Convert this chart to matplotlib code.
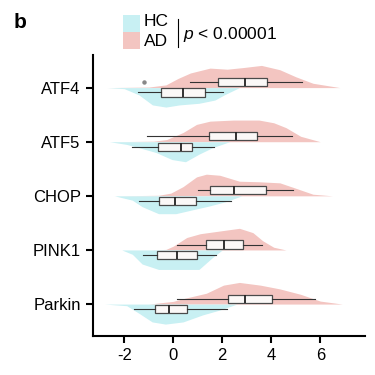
import matplotlib
matplotlib.use("Agg")
import matplotlib.pyplot as plt
from matplotlib.patches import Rectangle
from matplotlib.lines import Line2D

plt.rcParams["font.family"] = ["Liberation Sans", "DejaVu Sans"]
plt.rcParams["mathtext.fontset"] = "custom"
plt.rcParams["mathtext.it"] = "Liberation Sans:italic"
plt.rcParams["mathtext.rm"] = "Liberation Sans"
plt.rcParams["axes.unicode_minus"] = False

genes = ["ATF4", "ATF5", "CHOP", "PINK1", "Parkin"]

# box stats: whisker low, q1, median, q3, whisker high
ad_stats = [
    [0.68, 1.84, 2.93, 3.81, 5.24],
    [-1.09, 1.47, 2.55, 3.40, 4.83],
    [1.02, 1.50, 2.49, 3.78, 4.87],
    [0.16, 1.32, 2.07, 2.85, 3.63],
    [0.16, 2.22, 2.93, 4.03, 5.78],
]
hc_stats = [
    [-1.43, -0.50, 0.41, 1.29, 2.04],
    [-1.70, -0.64, 0.30, 0.75, 1.68],
    [-1.39, -0.58, 0.07, 0.93, 2.34],
    [-1.22, -0.68, 0.14, 0.98, 1.74],
    [-1.59, -0.75, -0.18, 0.57, 2.18],
]
ad_outliers = [[-1.18], [], [], [], []]
hc_outliers = [[], [], [], [], []]

# half-violin outlines (x value, height)
ad_dens_x = [
    [-2.7, -1.0, -0.3, 0.2, 0.7, 1.5, 2.2, 2.85, 3.6, 4.35, 5.0, 5.7, 6.8],
    [-2.45, -0.8, -0.27, 0.4, 0.95, 1.5, 2.45, 3.5, 4.1, 4.6, 5.2, 6.0],
    [-2.3, -0.6, -0.1, 0.4, 0.95, 1.35, 1.9, 2.7, 3.5, 4.35, 5.0, 5.7, 6.5],
    [-0.9, -0.3, 0.0, 0.55, 1.1, 1.9, 2.7, 3.25, 3.65, 4.1, 4.6],
    [-1.0, 0.0, 0.4, 1.35, 2.05, 2.7, 3.55, 4.35, 5.2, 6.0, 6.9],
]
ad_dens_h = [
    [0, 0.01, 0.05, 0.17, 0.27, 0.36, 0.34, 0.37, 0.41, 0.33, 0.2, 0.08, 0],
    [0, 0.01, 0.04, 0.17, 0.32, 0.38, 0.4, 0.4, 0.35, 0.26, 0.1, 0],
    [0, 0.01, 0.05, 0.17, 0.35, 0.4, 0.38, 0.27, 0.26, 0.24, 0.14, 0.03, 0],
    [0, 0.01, 0.07, 0.23, 0.3, 0.35, 0.4, 0.32, 0.17, 0.05, 0],
    [0, 0.05, 0.1, 0.2, 0.35, 0.4, 0.35, 0.28, 0.18, 0.055, 0],
]
hc_dens_x = [
    [-2.7, -2.0, -1.4, -0.85, -0.3, 0.25, 1.05, 1.7, 2.1, 2.7],
    [-2.6, -1.9, -1.4, -0.7, -0.05, 0.5, 1.05, 1.6, 2.3],
    [-2.4, -1.67, -1.27, -0.6, 0.1, 0.77, 1.45, 2.13, 2.8],
    [-2.1, -1.67, -1.27, -0.6, 0.23, 1.05, 1.6, 2.0],
    [-2.8, -1.9, -1.4, -0.86, -0.32, 0.4, 1.2, 1.9, 2.6],
]
hc_dens_h = [
    [0, 0.02, 0.135, 0.32, 0.36, 0.32, 0.29, 0.23, 0.13, 0],
    [0, 0.05, 0.11, 0.2, 0.33, 0.37, 0.23, 0.11, 0],
    [0, 0.08, 0.2, 0.33, 0.33, 0.26, 0.19, 0.11, 0],
    [0, 0.08, 0.26, 0.36, 0.36, 0.36, 0.14, 0],
    [0, 0.03, 0.17, 0.33, 0.37, 0.33, 0.2, 0.11, 0],
]

ad_color = "#F3C5C1"
hc_color = "#C8F0F3"
box_edge = "#4a4a4a"

fig = plt.figure(figsize=(3.75, 3.75), dpi=100)
ax = fig.add_axes([0.247, 0.104, 0.726, 0.749])

ypos = [5 - i for i in range(len(genes))]

# half violins
for i, y in enumerate(ypos):
    ax.fill_between(ad_dens_x[i], y, [y + h for h in ad_dens_h[i]],
                    color=ad_color, lw=0, zorder=1)
    ax.fill_between(hc_dens_x[i], y, [y - h for h in hc_dens_h[i]],
                    color=hc_color, lw=0, zorder=1)


def make_stats(s, fl):
    return {"whislo": s[0], "q1": s[1], "med": s[2], "q3": s[3],
            "whishi": s[4], "fliers": fl}


box_kw = dict(
    orientation="horizontal", widths=0.15, showcaps=False, patch_artist=True,
    boxprops=dict(facecolor="#FBF8F7", edgecolor=box_edge, linewidth=0.9),
    medianprops=dict(color="#222222", linewidth=1.3),
    whiskerprops=dict(color="#333333", linewidth=0.8),
    flierprops=dict(marker="o", markersize=2.2, markerfacecolor="#888888",
                    markeredgecolor="#888888"),
    manage_ticks=False, zorder=3,
)
ax.bxp([make_stats(ad_stats[i], ad_outliers[i]) for i in range(len(genes))],
       positions=[y + 0.1 for y in ypos], **box_kw)
ax.bxp([make_stats(hc_stats[i], hc_outliers[i]) for i in range(len(genes))],
       positions=[y - 0.09 for y in ypos], **box_kw)

ax.set_xlim(-3.29, 7.82)
ax.set_ylim(0.41, 5.6)
ax.set_xticks([-2, 0, 2, 4, 6])
ax.set_yticks(ypos)
ax.set_yticklabels(genes)
ax.tick_params(axis="both", labelsize=12, width=1.5, length=5, color="black")
for s in ["top", "right"]:
    ax.spines[s].set_visible(False)
for s in ["left", "bottom"]:
    ax.spines[s].set_linewidth(1.5)

# legend in figure pixel coordinates
W = H = 375.0
def fx(px):
    return px / W
def fy(py):
    return 1 - py / H

fig.patches.append(Rectangle((fx(123), fy(32)), 17 / W, 17 / H,
                             transform=fig.transFigure, color=hc_color, lw=0))
fig.patches.append(Rectangle((fx(123), fy(49)), 17 / W, 17 / H,
                             transform=fig.transFigure, color=ad_color, lw=0))
fig.text(fx(144), fy(22), "HC", fontsize=12.5, va="center", ha="left")
fig.text(fx(144), fy(41), "AD", fontsize=12.5, va="center", ha="left")
fig.lines.append(Line2D([fx(178), fx(178)], [fy(19), fy(47)],
                        transform=fig.transFigure, color="black", lw=0.8))
fig.text(fx(183), fy(34), "$p$ < 0.00001", fontsize=12.5, va="center",
         ha="left")
fig.text(fx(14), fy(23), "b", fontsize=15, fontweight="bold", va="center",
         ha="left")

fig.savefig("out.png", dpi=100)
